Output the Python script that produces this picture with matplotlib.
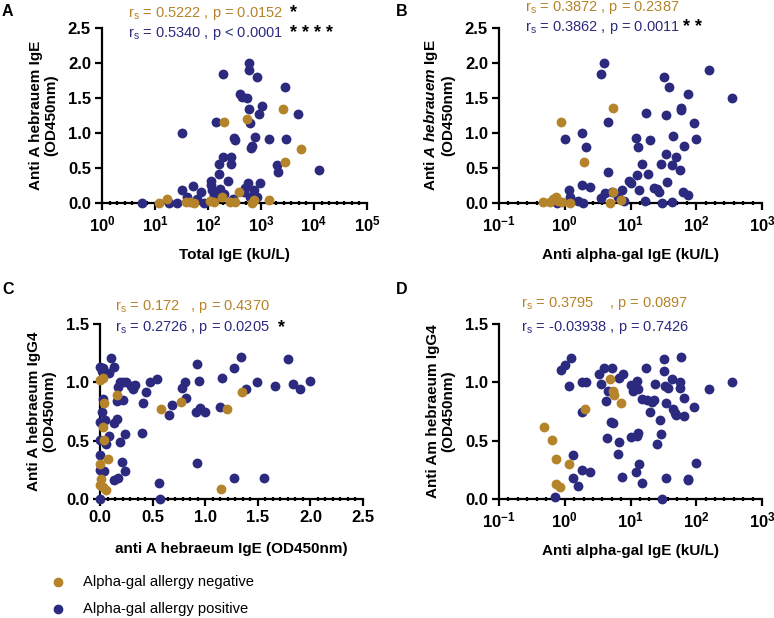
import numpy as np
import matplotlib
matplotlib.use("Agg")
import matplotlib.pyplot as plt
from matplotlib.ticker import FixedLocator, NullFormatter

plt.rcParams['font.family'] = ['Liberation Sans', 'DejaVu Sans']
plt.rcParams['mathtext.fontset'] = 'custom'
plt.rcParams['mathtext.rm'] = 'Liberation Sans:bold'
plt.rcParams['mathtext.it'] = 'Liberation Sans:italic:bold'
plt.rcParams['mathtext.sf'] = 'Liberation Sans'

ORANGE = '#B5832A'
BLUE = '#2B2A7F'

# ---- panel A : total IgE vs anti A hebraeum IgE
a_neg_x = [12, 17, 39, 46, 54, 110, 130, 180, 200, 260, 330, 390, 550, 680, 750, 1400, 2650, 2800, 5800]
a_neg_y = [0.0, 0.06, 0.02, 0.01, 0.0, 0.03, 0.02, 0.09, 1.15, 0.02, 0.01, 0.16, 1.20, 0.0, 0.04, 0.04, 1.34, 0.58, 0.77]
a_pos_x = [5.8, 18, 26, 33, 33, 40, 51, 62, 75, 85, 112, 115, 120, 130, 142, 150, 160, 160, 170, 190, 193,
           200, 240, 266, 270, 300, 307, 320, 398, 430, 470, 500, 550, 560, 590, 590, 600, 610, 620, 650,
           690, 740, 760, 850, 850, 900, 960, 1050, 1420, 1990, 2100, 2800, 3000, 4900, 12600]
a_pos_y = [0.0, 0.0, 0.0, 1.0, 0.19, 0.08, 0.24, 0.06, 0.15, 0.0, 0.31, 0.25, 0.18, 0.12, 1.16, 0.08, 0.56, 0.41,
           0.2, 0.66, 1.84, 0.13, 0.32, 0.66, 0.56, 0.05, 0.93, 0.9, 1.56, 1.52, 0.15, 0.22, 1.5, 0.29, 2.0,
           1.9, 1.34, 1.14, 0.08, 0.79, 0.82, 0.19, 0.94, 1.8, 0.08, 1.27, 0.28, 1.38, 0.92, 0.54, 0.44, 1.66,
           0.92, 1.27, 0.47]

# ---- panel B : anti alpha-gal IgE vs anti A hebraeum IgE
b_neg_x = [0.47, 0.6, 0.67, 0.73, 0.8, 0.87, 0.9, 1.2, 1.97, 4.9, 5.4, 5.5, 7.2]
b_neg_y = [0.02, 0.02, 0.05, 0.08, 0.03, 1.15, 0.01, 0.0, 0.58, 0.0, 1.35, 0.15, 0.04]
b_pos_x = [0.75, 1.0, 1.16, 1.2, 1.6, 1.8, 1.85, 1.9, 2.1, 2.4, 3.5, 3.6, 4.0, 4.1, 4.5, 4.6, 5.3, 6.5,
           7.5, 8.0, 9.5, 10.2, 12, 12.5, 13.2, 13.5, 15, 16.7, 17.4, 18.4, 20, 23, 25, 27, 29, 30, 32,
           35, 35, 36, 38, 43, 43, 44, 50, 57, 58, 58, 63, 65, 76, 76, 93, 100, 155, 350]
b_pos_y = [0.0, 0.92, 0.18, 0.08, 0.03, 1.0, 0.25, 0.0, 0.8, 0.23, 1.84, 0.07, 2.0, 0.14, 0.44, 1.16,
           0.15, 0.08, 0.18, 0.03, 0.31, 0.28, 0.93, 0.4, 0.8, 0.18, 0.55, 0.03, 1.28, 0.41, 0.9, 0.22,
           0.2, 0.15, 0.56, 0.0, 1.8, 0.7, 1.26, 0.3, 1.66, 0.54, 0.01, 0.95, 0.66, 0.47, 1.36, 1.33, 0.16,
           0.82, 1.56, 0.12, 1.14, 0.92, 1.9, 1.5]

# ---- panel C : anti A hebraeum IgE vs anti A hebraeum IgG4
c_neg_x = [0.0, 0.03, 0.04, 0.03, 0.04, 0.0, 0.08, 0.01, 0.0, 0.03, 0.06, 0.16, 0.58, 0.77, 1.15, 1.21, 1.35]
c_neg_y = [1.02, 1.04, 0.82, 0.62, 0.51, 0.30, 0.34, 0.17, 0.12, 0.1, 0.08, 0.89, 0.77, 0.83, 0.09, 0.77, 0.92]
c_pos_x = [0.0, 0.0, 0.02, 0.05, 0.03, 0.1, 0.13, 0.09, 0.0, 0.0, 0.0, 0.0, 0.03, 0.02, 0.05, 0.06, 0.04,
           0.09, 0.13, 0.16, 0.13, 0.17, 0.19, 0.22, 0.25, 0.17, 0.16, 0.22, 0.19, 0.21, 0.24, 0.24, 0.29,
           0.31, 0.33, 0.41, 0.44, 0.48, 0.54, 0.40, 0.56, 0.57, 0.66, 0.68, 0.81, 0.78, 0.82, 0.92, 0.94,
           0.91, 0.95, 1.0, 0.92, 1.14, 1.16, 1.27, 1.34, 1.39, 1.27, 1.49, 1.56, 1.66, 1.79, 1.83, 1.9, 2.0]
c_pos_y = [0.0, 1.13, 1.1, 1.08, 1.12, 1.21, 1.13, 1.08, 0.66, 0.51, 0.38, 0.25, 0.86, 0.75, 0.68, 0.47,
           0.24, 0.54, 0.65, 0.69, 0.16, 0.18, 1.0, 1.0, 1.0, 0.96, 0.84, 0.85, 0.49, 0.32, 0.24, 0.56,
           0.97, 0.94, 0.98, 0.82, 0.92, 1.0, 1.03, 0.57, 0.14, 0.0, 0.72, 0.81, 1.0, 0.95, 0.87, 1.16, 1.01,
           0.75, 0.78, 0.75, 0.31, 0.79, 1.04, 1.12, 1.22, 0.94, 0.18, 1.0, 0.18, 0.97, 1.2, 0.99, 0.94, 1.01]

# ---- panel D : anti alpha-gal IgE vs anti Am hebraeum IgG4
d_neg_x = [0.48, 0.63, 0.74, 0.73, 0.85, 1.18, 2.0, 4.9, 5.4, 5.6, 7.2]
d_neg_y = [0.62, 0.51, 0.34, 0.13, 0.10, 0.30, 0.77, 1.03, 0.93, 0.89, 0.82]
d_pos_x = [0.70, 0.87, 1.0, 1.23, 1.16, 1.32, 1.35, 1.6, 1.85, 2.4, 1.85, 2.1, 1.8, 3.3, 3.9, 3.6, 4.3,
           4.5, 4.4, 5.0, 5.5, 5.2, 6.7, 7.8, 6.8, 6.4, 7.3, 10, 10.8, 12.5, 13, 13, 12.5, 10, 12, 13.5,
           15, 17, 15, 18, 21, 23, 19.9, 24, 25, 29, 28, 32, 32, 30, 34, 35, 37, 35, 43, 44, 47, 50, 56,
           58, 57, 64, 64, 76, 76, 93, 98, 155, 350]
d_pos_y = [0.02, 1.11, 1.15, 1.21, 0.97, 0.18, 0.38, 0.11, 0.25, 0.23, 1.0, 1.0, 0.75, 1.07, 1.12, 0.99,
           0.84, 0.93, 0.52, 0.66, 0.65, 1.12, 1.04, 1.07, 0.49, 0.39, 0.19, 0.98, 0.93, 1.01, 0.94, 0.57,
           0.54, 0.53, 0.23, 0.30, 0.14, 1.12, 0.86, 0.85, 0.83, 0.85, 0.75, 0.99, 0.47, 0.56, 0.68, 1.10,
           1.20, 0.0, 0.97, 0.18, 0.95, 0.82, 1.03, 0.77, 0.74, 0.72, 1.0, 1.22, 0.95, 0.71, 0.87, 0.17,
           0.16, 0.79, 0.31, 0.94, 1.0]

W, H = 774, 618
fig = plt.figure(figsize=(W / 100, H / 100), dpi=100)


def px_axes(x0, x1, y_top, y_bot):
    return fig.add_axes([x0 / W, 1 - y_bot / H, (x1 - x0) / W, (y_bot - y_top) / H])


def style(ax, log, xlo, xhi, ylo, yhi, ystep, xstep=None):
    for s in ('top', 'right'):
        ax.spines[s].set_visible(False)
    for s in ('left', 'bottom'):
        ax.spines[s].set_linewidth(1.6)
    ax.set_ylim(ylo, yhi)
    ax.set_yticks(np.arange(ylo, yhi + 1e-9, ystep))
    ax.set_yticklabels(['%.1f' % v for v in np.arange(ylo, yhi + 1e-9, ystep)])
    if log:
        ax.set_xscale('log')
        ax.set_xlim(xlo, xhi)
        e0, e1 = int(np.log10(xlo)), int(np.log10(xhi))
        ax.set_xticks([10.0 ** e for e in range(e0, e1 + 1)])
        ax.set_xticklabels([r'$10^{\mathsf{%s}}$' % ('-1' if e < 0 else str(e)) if False else
                            r'$10^{%d}$' % e for e in range(e0, e1 + 1)])
        mins = [10 ** (e + j / 7) for e in range(e0, e1) for j in range(1, 7)]
    else:
        ax.set_xlim(xlo, xhi)
        ax.set_xticks(np.arange(xlo, xhi + 1e-9, xstep))
        ax.set_xticklabels(['%.1f' % v for v in np.arange(xlo, xhi + 1e-9, xstep)])
        mins = [xlo + (k + j / 7) * xstep for k in range(int(round((xhi - xlo) / xstep))) for j in range(1, 7)]
    ax.xaxis.set_minor_locator(FixedLocator(mins))
    ax.xaxis.set_minor_formatter(NullFormatter())
    ax.yaxis.set_minor_locator(FixedLocator([]))
    ax.tick_params(axis='both', which='major', length=5, width=1.6, direction='out',
                   labelsize=12, pad=3)
    ax.tick_params(axis='x', which='minor', length=2.6, width=1.6, direction='inout')
    for lab in ax.get_yticklabels() + ax.get_xticklabels():
        lab.set_fontweight('bold')
    ax.set_facecolor('none')


def scatter(ax, xn, yn, xp, yp):
    ax.scatter(xp, yp, s=50, color=BLUE, zorder=3, clip_on=False, linewidths=0)
    ax.scatter(xn, yn, s=50, color=ORANGE, zorder=4, clip_on=False, linewidths=0)


def stats(x, y1, y2, t1, t2, s1, s2):
    fig.text(x / W, 1 - y1 / H, t1, color=ORANGE, fontsize=10.5, va='center', ha='left')
    fig.text(x / W, 1 - y2 / H, t2, color=BLUE, fontsize=10.5, va='center', ha='left')
    if s1:
        fig.text(s1[0] / W, 1 - y1 / H, s1[1], color='black', fontsize=13, fontweight='bold',
                 va='center', ha='left')
    if s2:
        fig.text(s2[0] / W, 1 - y2 / H, s2[1], color='black', fontsize=13, fontweight='bold',
                 va='center', ha='left')


lab_kw = dict(fontsize=11, fontweight='bold', linespacing=1.1)

# A
axA = px_axes(102, 367, 28, 203)
scatter(axA, a_neg_x, a_neg_y, a_pos_x, a_pos_y)
style(axA, True, 1, 1e5, 0, 2.5, 0.5)
axA.set_xlabel('Total IgE (kU/L)', labelpad=10, **lab_kw)
axA.set_ylabel('Anti A hebrauem IgE\n(OD450nm)', labelpad=7, **lab_kw)

# B
axB = px_axes(499, 762, 28, 203)
scatter(axB, b_neg_x, b_neg_y, b_pos_x, b_pos_y)
style(axB, True, 0.1, 1e3, 0, 2.5, 0.5)
axB.set_xlabel('Anti alpha-gal IgE (kU/L)', labelpad=10, **lab_kw)
axB.set_ylabel('Anti $A\\ hebrauem$ IgE\n(OD450nm)', labelpad=7, **lab_kw)

# C
axC = px_axes(100, 363, 324, 499)
scatter(axC, c_neg_x, c_neg_y, c_pos_x, c_pos_y)
style(axC, False, 0, 2.5, 0, 1.5, 0.5, xstep=0.5)
axC.set_xlabel('anti A hebraeum IgE (OD450nm)', labelpad=12, **lab_kw)
axC.set_ylabel('Anti A hebraeum IgG4\n(OD450nm)', labelpad=7, **lab_kw)

# D
axD = px_axes(499, 762, 324, 499)
scatter(axD, d_neg_x, d_neg_y, d_pos_x, d_pos_y)
style(axD, True, 0.1, 1e3, 0, 1.5, 0.5)
axD.set_xlabel('Anti alpha-gal IgE (kU/L)', labelpad=10, **lab_kw)
axD.set_ylabel('Anti Am hebraeum IgG4\n(OD450nm)', labelpad=7, **lab_kw)

# correlation annotations
stats(128, 13, 33, r'$\mathsf{r_s}$ = 0.5222 , p = 0.0152', r'$\mathsf{r_s}$ = 0.5340 , p < 0.0001',
      (290, '*'), (290, '* * * *'))
stats(525, 8, 27, r'$\mathsf{r_s}$ = 0.3872 , p = 0.2387', r'$\mathsf{r_s}$ = 0.3862 , p = 0.0011',
      None, (683, '* *'))
stats(115, 307, 328, r'$\mathsf{r_s}$ = 0.172   , p = 0.4370', r'$\mathsf{r_s}$ = 0.2726 , p = 0.0205',
      None, (278, '*'))
stats(521, 304, 327, r'$\mathsf{r_s}$ = 0.3795    , p = 0.0897', r'$\mathsf{r_s}$ = -0.03938 , p = 0.7426',
      None, None)

# panel letters
for x, y, t in [(2, 12, 'A'), (396, 12, 'B'), (2, 290, 'C'), (396, 290, 'D')]:
    fig.text(x / W, 1 - y / H, t, fontsize=11.5, fontweight='bold', va='center', ha='left')

# legend
fig.lines.append(plt.Line2D([58 / W], [1 - 582 / H], marker='o', color=ORANGE, markersize=6,
                            linestyle='none', transform=fig.transFigure))
fig.lines.append(plt.Line2D([58 / W], [1 - 609 / H], marker='o', color=BLUE, markersize=6,
                            linestyle='none', transform=fig.transFigure))
fig.text(83 / W, 1 - 582 / H, 'Alpha-gal allergy negative', fontsize=10.6, va='center', ha='left')
fig.text(83 / W, 1 - 609 / H, 'Alpha-gal allergy positive', fontsize=10.6, va='center', ha='left')

fig.savefig('out.png', dpi=100)
